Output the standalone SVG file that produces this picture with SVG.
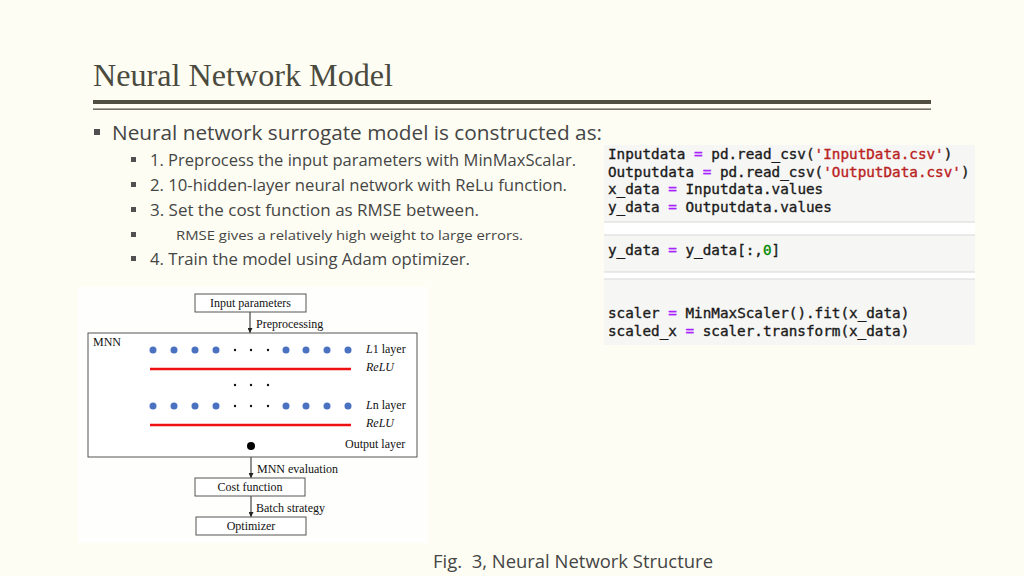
<svg xmlns="http://www.w3.org/2000/svg" width="1024" height="576" viewBox="0 0 1024 576">
<defs>
<style>
.title{font-family:"Liberation Serif",serif;font-size:32px;fill:#4b4a3e}
.b1{font-family:"Open Sans","Noto Sans",sans-serif;font-size:20px;fill:#454545}
.b2{font-family:"Open Sans","Noto Sans",sans-serif;font-size:16px;fill:#454545}
.b3{font-family:"Open Sans","Noto Sans",sans-serif;font-size:13.5px;fill:#454545}
.sq{fill:#505050}
.code{font-family:"DejaVu Sans Mono","Liberation Mono",monospace;font-size:14.3px;fill:#1a1a1a;stroke:#1a1a1a;stroke-width:0.35}
.op{fill:#aa22ff;stroke:#aa22ff}
.str{fill:#ba2121;stroke:#ba2121}
.num{fill:#008800;stroke:#008800}
.fig{font-family:"Liberation Serif",serif;font-size:12px;fill:#111}
.box{fill:#fff;stroke:#555;stroke-width:1}
.conn{stroke:#222;stroke-width:1;fill:none}
.relu{stroke:#ee1111;stroke-width:2.6}
.bd{fill:#4a72c0}
.kd{fill:#111}
.cap{font-family:"Open Sans","Noto Sans",sans-serif;font-size:19px;fill:#454545}
</style>
<marker id="ah" viewBox="0 0 6 6" refX="6" refY="3" markerWidth="5" markerHeight="5" orient="auto" markerUnits="userSpaceOnUse">
<path d="M0,0 L6,3 L0,6 z" fill="#222"/>
</marker>
</defs>
<rect width="1024" height="576" fill="#fdfdf3"/>

<g id="title">
<text class="title" x="93" y="86" textLength="300" lengthAdjust="spacingAndGlyphs">Neural Network Model</text>
<rect x="93" y="100" width="838" height="4" fill="#4f4e40"/>
<rect x="93" y="108.5" width="838" height="1.3" fill="#4f4e40"/>
</g>

<g id="bullets">
<rect class="sq" x="94" y="129" width="6" height="6"/>
<text class="b1" x="112" y="140" textLength="490" lengthAdjust="spacingAndGlyphs">Neural network surrogate model is constructed as:</text>
<rect class="sq" x="131" y="157" width="5" height="5"/>
<text class="b2" x="150" y="166" textLength="426" lengthAdjust="spacingAndGlyphs">1. Preprocess the input parameters with MinMaxScalar.</text>
<rect class="sq" x="131" y="182" width="5" height="5"/>
<text class="b2" x="150" y="191" textLength="417" lengthAdjust="spacingAndGlyphs">2. 10-hidden-layer neural network with ReLu function.</text>
<rect class="sq" x="131" y="207" width="5" height="5"/>
<text class="b2" x="150" y="216" textLength="329" lengthAdjust="spacingAndGlyphs">3. Set the cost function as RMSE between.</text>
<rect class="sq" x="131" y="232" width="5" height="5"/>
<text class="b3" x="176" y="240" textLength="347" lengthAdjust="spacingAndGlyphs">RMSE gives a relatively high weight to large errors.</text>
<rect class="sq" x="131" y="256" width="5" height="5"/>
<text class="b2" x="150" y="265" textLength="320" lengthAdjust="spacingAndGlyphs">4. Train the model using Adam optimizer.</text>
</g>

<g id="code">
<rect x="604" y="145" width="371" height="200" fill="#ffffff"/>
<rect x="604" y="145" width="371" height="77" fill="#f6f6f4"/>
<line x1="604" y1="222" x2="975" y2="222" stroke="#d8d8d8" stroke-width="1.2"/>
<rect x="604" y="235" width="371" height="37" fill="#f6f6f4"/>
<line x1="604" y1="235" x2="975" y2="235" stroke="#d8d8d8" stroke-width="1.2"/>
<line x1="604" y1="272" x2="975" y2="272" stroke="#d8d8d8" stroke-width="1.2"/>
<rect x="604" y="279" width="371" height="66" fill="#f6f6f4"/>
<line x1="604" y1="279" x2="975" y2="279" stroke="#d8d8d8" stroke-width="1.2"/>
<text class="code" x="608" y="159" xml:space="preserve">Inputdata <tspan class="op">=</tspan> pd.read_csv(<tspan class="str">'InputData.csv'</tspan>)</text>
<text class="code" x="608" y="176.5" xml:space="preserve">Outputdata <tspan class="op">=</tspan> pd.read_csv(<tspan class="str">'OutputData.csv'</tspan>)</text>
<text class="code" x="608" y="194" xml:space="preserve">x_data <tspan class="op">=</tspan> Inputdata.values</text>
<text class="code" x="608" y="211.5" xml:space="preserve">y_data <tspan class="op">=</tspan> Outputdata.values</text>
<text class="code" x="608" y="255" xml:space="preserve">y_data <tspan class="op">=</tspan> y_data[:,<tspan class="num">0</tspan>]</text>
<text class="code" x="608" y="318" xml:space="preserve">scaler <tspan class="op">=</tspan> MinMaxScaler().fit(x_data)</text>
<text class="code" x="608" y="335.5" xml:space="preserve">scaled_x <tspan class="op">=</tspan> scaler.transform(x_data)</text>
</g>

<rect x="78" y="287" width="350" height="256" fill="#fefefc"/>

<g id="connectors">
<line class="conn" x1="250" y1="312" x2="250" y2="333" marker-end="url(#ah)"/>
<line class="conn" x1="251" y1="457" x2="251" y2="478" marker-end="url(#ah)"/>
<line class="conn" x1="251" y1="496" x2="251" y2="517" marker-end="url(#ah)"/>
<text class="fig" x="256" y="328">Preprocessing</text>
<text class="fig" x="257" y="473">MNN evaluation</text>
<text class="fig" x="256" y="512">Batch strategy</text>
</g>

<g id="input-parameters">
<rect class="box" x="195" y="294" width="111" height="18"/>
<text class="fig" x="250.5" y="307" text-anchor="middle">Input parameters</text>
</g>

<g id="mnn">
<rect class="box" x="88" y="333" width="329" height="124"/>
<text class="fig" x="93" y="346">MNN</text>
<g id="layer-l1">
<circle class="bd" cx="153" cy="350" r="3.5"/><circle class="bd" cx="174" cy="350" r="3.5"/><circle class="bd" cx="195" cy="350" r="3.5"/><circle class="bd" cx="216" cy="350" r="3.5"/>
<circle class="kd" cx="235" cy="350" r="1.2"/><circle class="kd" cx="251" cy="350" r="1.2"/><circle class="kd" cx="268" cy="350" r="1.2"/>
<circle class="bd" cx="286" cy="350" r="3.5"/><circle class="bd" cx="306" cy="350" r="3.5"/><circle class="bd" cx="327" cy="350" r="3.5"/><circle class="bd" cx="348" cy="350" r="3.5"/>
<text class="fig" x="366" y="353"><tspan font-style="italic">L</tspan>1 layer</text>
<line class="relu" x1="150" y1="369" x2="351" y2="369"/>
<text class="fig" x="366" y="371" font-style="italic">ReLU</text>
</g>
<circle class="kd" cx="235" cy="385" r="1.2"/><circle class="kd" cx="251" cy="385" r="1.2"/><circle class="kd" cx="268" cy="385" r="1.2"/>
<g id="layer-ln">
<circle class="bd" cx="153" cy="406" r="3.5"/><circle class="bd" cx="174" cy="406" r="3.5"/><circle class="bd" cx="195" cy="406" r="3.5"/><circle class="bd" cx="216" cy="406" r="3.5"/>
<circle class="kd" cx="235" cy="406" r="1.2"/><circle class="kd" cx="251" cy="406" r="1.2"/><circle class="kd" cx="268" cy="406" r="1.2"/>
<circle class="bd" cx="286" cy="406" r="3.5"/><circle class="bd" cx="306" cy="406" r="3.5"/><circle class="bd" cx="327" cy="406" r="3.5"/><circle class="bd" cx="348" cy="406" r="3.5"/>
<text class="fig" x="366" y="409"><tspan font-style="italic">L</tspan>n layer</text>
<line class="relu" x1="150" y1="425" x2="351" y2="425"/>
<text class="fig" x="366" y="427" font-style="italic">ReLU</text>
</g>
<circle cx="251" cy="446" r="4" fill="#000"/>
<text class="fig" x="345" y="448">Output layer</text>
</g>

<g id="cost-function">
<rect class="box" x="195" y="478" width="110" height="18"/>
<text class="fig" x="250" y="491" text-anchor="middle">Cost function</text>
</g>

<g id="optimizer">
<rect class="box" x="196" y="517" width="110" height="18"/>
<text class="fig" x="251" y="530" text-anchor="middle">Optimizer</text>
</g>

<g id="caption">
<text class="cap" x="433" y="568" xml:space="preserve" textLength="280" lengthAdjust="spacingAndGlyphs">Fig.  3, Neural Network Structure</text>
</g>
</svg>
